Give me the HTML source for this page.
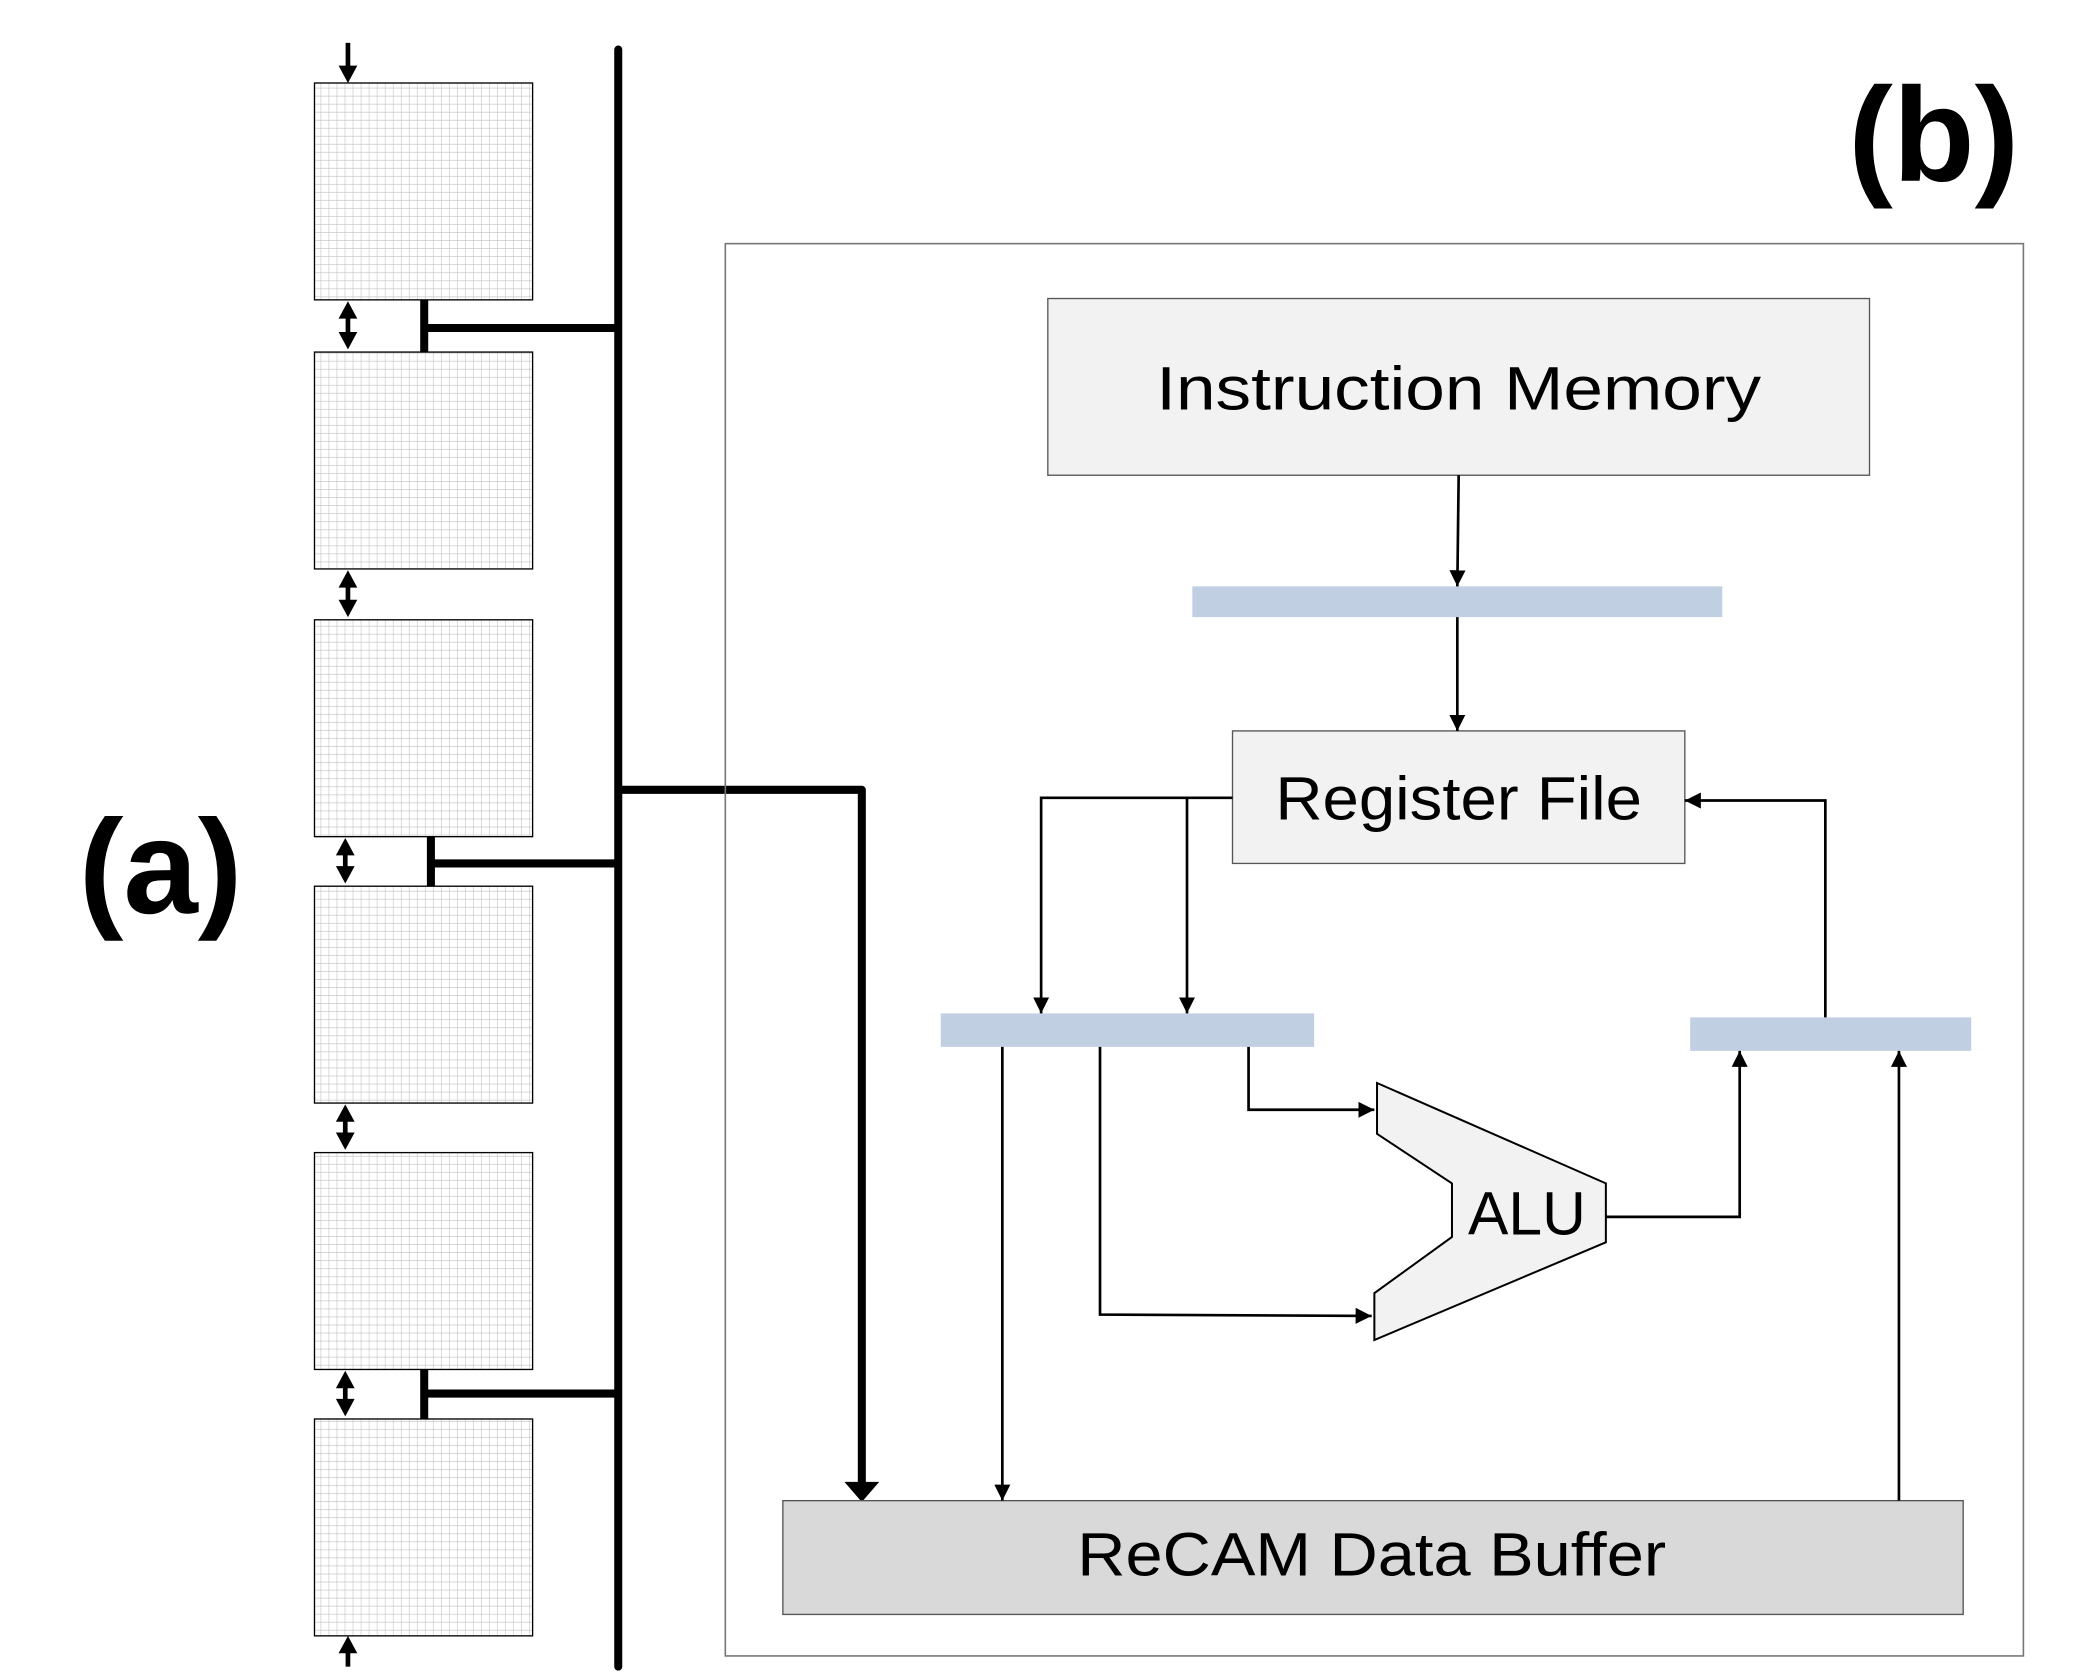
<!DOCTYPE html>
<html><head><meta charset="utf-8">
<style>
html,body{margin:0;padding:0;background:#fff;width:2097px;height:1672px;overflow:hidden}
svg{display:block}
text{font-family:"Liberation Sans",sans-serif}
</style></head>
<body>
<svg width="2097" height="1672" viewBox="0 0 1567 1249" preserveAspectRatio="none" xmlns="http://www.w3.org/2000/svg">
<defs>
<pattern id="g" width="6" height="6" patternUnits="userSpaceOnUse">
<rect width="6" height="6" fill="#fff"/>
<path d="M6 0V6M0 6H6" stroke="#bdbdbd" stroke-width="0.8" fill="none"/>
</pattern>
<marker id="a" viewBox="0 0 10 10" refX="10" refY="5" markerWidth="12" markerHeight="12" markerUnits="userSpaceOnUse" orient="auto"><path d="M0 0L10 5L0 10z" fill="#000"/></marker>
</defs>

<g stroke="#000" stroke-width="1">
<rect x="235" y="62" width="163" height="162" fill="url(#g)"/>
<rect x="235" y="263" width="163" height="162" fill="url(#g)"/>
<rect x="235" y="463" width="163" height="162" fill="url(#g)"/>
<rect x="235" y="662" width="163" height="162" fill="url(#g)"/>
<rect x="235" y="861" width="163" height="162" fill="url(#g)"/>
<rect x="235" y="1060" width="163" height="162" fill="url(#g)"/>
</g>
<g stroke="#000" stroke-width="3.5" fill="none">
<line x1="260" y1="32" x2="260" y2="52"/>
<line x1="260" y1="1245" x2="260" y2="1232"/>
<line x1="260" y1="236" x2="260" y2="252"/>
<line x1="260" y1="437" x2="260" y2="452"/>
<line x1="258" y1="636" x2="258" y2="651"/>
<line x1="258" y1="835" x2="258" y2="850"/>
<line x1="258" y1="1034" x2="258" y2="1049"/>
</g>
<g fill="#000">
<path d="M253 49 L267 49 L260 62Z"/>
<path d="M253 1235 L267 1235 L260 1222Z"/>
<path d="M253 238 L267 238 L260 225Z"/><path d="M253 248 L267 248 L260 261Z"/>
<path d="M253 439 L267 439 L260 426Z"/><path d="M253 448 L267 448 L260 461Z"/>
<path d="M251 639 L265 639 L258 626Z"/><path d="M251 647 L265 647 L258 660Z"/>
<path d="M251 838 L265 838 L258 825Z"/><path d="M251 846 L265 846 L258 859Z"/>
<path d="M251 1037 L265 1037 L258 1024Z"/><path d="M251 1045 L265 1045 L258 1058Z"/>
</g>
<g stroke="#000" stroke-width="6" fill="none">
<line x1="462" y1="37" x2="462" y2="1245" stroke-linecap="round"/>
<line x1="317" y1="224" x2="317" y2="263"/>
<line x1="317" y1="245" x2="462" y2="245"/>
<line x1="322" y1="625" x2="322" y2="662"/>
<line x1="322" y1="645" x2="462" y2="645"/>
<line x1="317" y1="1023" x2="317" y2="1060"/>
<line x1="317" y1="1041" x2="462" y2="1041"/>
<polyline points="460,590 644,590 644,1108" stroke-linejoin="round"/>
</g>
<path d="M631 1107 L657 1107 L644 1122 Z" fill="#000"/>

<text x="120" y="682" font-size="100" font-weight="bold" text-anchor="middle">(a)</text>
<text x="1445" y="135" font-size="100" font-weight="bold" text-anchor="middle">(b)</text>

<rect x="542" y="182" width="970" height="1055" fill="none" stroke="#777" stroke-width="1.2"/>
<rect x="783" y="223" width="614" height="132" fill="#f2f2f2" stroke="#555" stroke-width="1"/>
<text x="1090" y="306" font-size="46" text-anchor="middle" textLength="452" lengthAdjust="spacingAndGlyphs">Instruction Memory</text>
<rect x="891" y="438" width="396" height="23" fill="#c0cfe1"/>
<rect x="921" y="546" width="338" height="99" fill="#f2f2f2" stroke="#555" stroke-width="1"/>
<text x="1090" y="612" font-size="46" text-anchor="middle" textLength="274" lengthAdjust="spacingAndGlyphs">Register File</text>
<rect x="703" y="757" width="279" height="25" fill="#c0cfe1"/>
<rect x="1263" y="760" width="210" height="25" fill="#c0cfe1"/>
<rect x="585" y="1121" width="882" height="85" fill="#d9d9d9" stroke="#555" stroke-width="1"/>
<text x="1025" y="1177" font-size="46" text-anchor="middle" textLength="440" lengthAdjust="spacingAndGlyphs">ReCAM Data Buffer</text>
<polygon points="1029,809 1200,884 1200,928 1027,1001 1027,966 1085,924 1085,884 1029,847" fill="#f2f2f2" stroke="#000" stroke-width="1.5"/>
<text x="1141" y="922" font-size="46" text-anchor="middle" textLength="88" lengthAdjust="spacingAndGlyphs">ALU</text>

<g stroke="#000" stroke-width="2" fill="none">
<line x1="1090" y1="355" x2="1089" y2="438" marker-end="url(#a)"/>
<line x1="1089" y1="461" x2="1089" y2="546" marker-end="url(#a)"/>
<polyline points="921,596 778,596 778,757" marker-end="url(#a)"/>
<line x1="887" y1="596" x2="887" y2="757" marker-end="url(#a)"/>
<polyline points="1364,760 1364,598 1259,598" marker-end="url(#a)"/>
<line x1="749" y1="782" x2="749" y2="1121" marker-end="url(#a)"/>
<polyline points="822,782 822,982 1025,983" marker-end="url(#a)"/>
<polyline points="933,782 933,829 1027,829" marker-end="url(#a)"/>
<polyline points="1200,909 1300,909 1300,785" marker-end="url(#a)"/>
<line x1="1419" y1="1121" x2="1419" y2="785" marker-end="url(#a)"/>
</g>
</svg>
</body></html>
